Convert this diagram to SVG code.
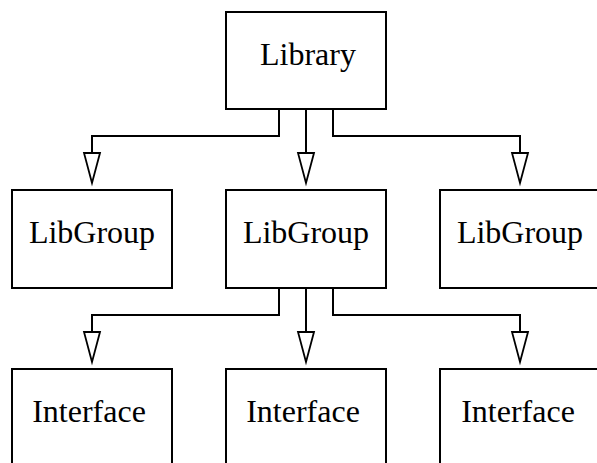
<svg xmlns="http://www.w3.org/2000/svg" width="597" height="463" viewBox="0 0 597 463">
<style>
.box{fill:#fff;stroke:#000;stroke-width:2}
.lbl{font-family:"Liberation Serif","Times New Roman",serif;font-size:32px;fill:#000;text-anchor:middle}
.edge{fill:none;stroke:#000;stroke-width:2;marker-end:url(#tri)}
</style>
<defs>
<marker id="tri" viewBox="0 -8 30 16" markerWidth="30" markerHeight="16" refX="30" refY="0" orient="auto" markerUnits="userSpaceOnUse" overflow="visible">
<path d="M0,-8 L30,0 L0,8 Z" fill="#fff" stroke="#000" stroke-width="1.8" stroke-linejoin="miter"/>
</marker>
</defs>
<rect width="597" height="463" fill="#fff"/>
<g id="connectors">
<path class="edge" d="M279,109 V136 H92 V183"/>
<path class="edge" d="M306,109 V183"/>
<path class="edge" d="M333,109 V136 H520 V183"/>
<path class="edge" d="M279,288 V315 H92 V362"/>
<path class="edge" d="M306,288 V362"/>
<path class="edge" d="M333,288 V315 H520 V362"/>
</g>
<g id="library"><rect class="box" x="226" y="12" width="160" height="97"/><text class="lbl" x="308" y="65">Library</text></g>
<g id="libgroup1"><rect class="box" x="12" y="190" width="160" height="98"/><text class="lbl" x="92" y="243">LibGroup</text></g>
<g id="libgroup2"><rect class="box" x="226" y="190" width="160" height="98"/><text class="lbl" x="306" y="243">LibGroup</text></g>
<g id="libgroup3"><rect class="box" x="440" y="190" width="160" height="98"/><text class="lbl" x="520" y="243">LibGroup</text></g>
<g id="interface1"><rect class="box" x="12" y="369" width="160" height="98"/><text class="lbl" x="89" y="422">Interface</text></g>
<g id="interface2"><rect class="box" x="226" y="369" width="160" height="98"/><text class="lbl" x="303" y="422">Interface</text></g>
<g id="interface3"><rect class="box" x="440" y="369" width="160" height="98"/><text class="lbl" x="518" y="422">Interface</text></g>
</svg>
